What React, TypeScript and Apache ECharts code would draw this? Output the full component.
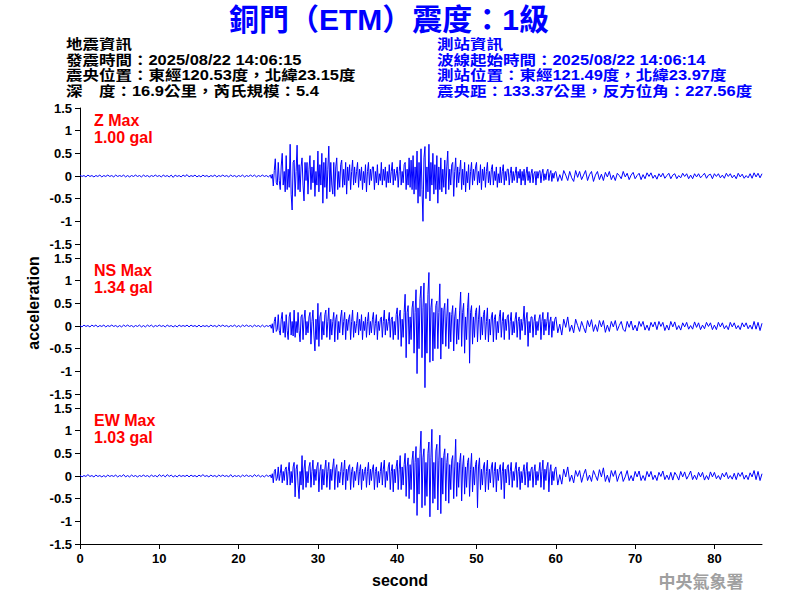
import React, { useEffect, useRef } from "react";
import * as echarts from "echarts";

// ---------- text content ----------
const titleText = "銅門（ETM）震度：1級";
const quakeInfo = [
  "地震資訊",
  "發震時間：2025/08/22 14:06:15",
  "震央位置：東經120.53度，北緯23.15度",
  "深　度：16.9公里，芮氏規模：5.4",
];
const stationInfo = [
  "測站資訊",
  "波線起始時間：2025/08/22 14:06:14",
  "測站位置：東經121.49度，北緯23.97度",
  "震央距：133.37公里，反方位角：227.56度",
];
const componentNames = ["Z Max", "NS Max", "EW Max"];
const componentMax = ["1.00 gal", "1.34 gal", "1.03 gal"];
const xTicks = [0, 10, 20, 30, 40, 50, 60, 70, 80];
const xMax = 86;
const yTicks = [-1.5, -1, -0.5, 0, 0.5, 1, 1.5];

// ---------- waveform samples ----------
// pre-event noise: every 0.25 s from 0 s
const preStart = 0;
const preStep = 0.25;
// strong motion: every 0.125 s from 24 s
const strongStart = 24;
const strongStep = 0.125;
// coda: every 0.25 s from 60 s
const codaStart = 60;
const codaStep = 0.25;

const zPre = [
  0.02, -0.01, 0.01, -0.02, 0.02, -0.01, 0.01, -0.02,
  0.01, -0.01, 0.02, -0.02, 0.01, -0.01, 0.02, -0.01,
  0.01, -0.02, 0.02, -0.01, 0.01, -0.01, 0.02, -0.02,
  0.01, -0.02, 0.01, -0.01, 0.02, -0.01, 0.01, -0.02,
  0.02, -0.01, 0.01, -0.02, 0.01, -0.01, 0.02, -0.01,
  0.01, -0.02, 0.02, -0.01, 0.01, -0.02, 0.02, -0.03,
  0.02, -0.01, 0.01, -0.02, 0.02, -0.01, 0.03, -0.02,
  0.01, -0.01, 0.02, -0.02, 0.01, -0.02, 0.02, -0.01,
  0.01, -0.02, 0.01, -0.01, 0.02, -0.02, 0.01, -0.01,
  0.02, -0.01, 0.01, -0.02, 0.02, -0.01, 0.01, -0.02,
  0.01, -0.01, 0.02, -0.02, 0.01, -0.01, 0.02, -0.01,
  0.02, -0.02, 0.01, -0.01, 0.02, -0.01, 0.01, -0.02,
];
const zStrong = [
  0.02, -0.05, 0.04, -0.22, 0.12, 0.38, -0.15, -0.2,
  0.3, -0.1, -0.3, 0.22, 0.5, -0.2, 0.1, -0.35,
  0.45, -0.3, 0.15, -0.25, 0.7, -0.4, -0.75, 0.3,
  0.35, -0.45, 0.1, 0.68, -0.3, 0.25, -0.35, 0.2,
  0.4, -0.2, -0.55, 0.3, -0.1, 0.3, -0.4, 0.15,
  0.45, -0.3, 0.2, -0.15, 0.35, -0.45, 0.1, -0.2,
  0.55, -0.35, 0.25, -0.2, 0.5, -0.6, 0.3, -0.25,
  0.4, -0.5, 0.15, 0.66, -0.35, 0.3, -0.2, -0.4,
  0.3, -0.45, 0.2, 0.4, -0.3, 0.1, -0.25, 0.25,
  0.35, -0.25, 0.15, -0.2, 0.3, -0.4, 0.2, -0.1,
  0.25, -0.3, 0.1, 0.35, -0.2, 0.2, -0.15, 0.1,
  0.3, -0.25, 0.15, -0.1, 0.2, -0.3, 0.1, -0.15,
  0.25, -0.35, 0.1, 0.3, -0.2, 0.15, -0.1, 0.2,
  0.2, -0.3, 0.1, -0.15, 0.25, -0.2, 0.05, -0.1,
  0.3, -0.2, 0.15, -0.1, 0.2, -0.25, 0.1, -0.15,
  0.25, -0.15, 0.1, 0.3, -0.2, 0.15, -0.1, 0.05,
  0.2, -0.25, 0.1, 0.35, -0.2, 0.1, -0.15, 0.25,
  0.3, -0.3, 0.15, -0.2, 0.4, -0.25, 0.35, -0.3,
  0.45, -0.4, 0.2, -0.3, 0.55, -0.6, 0.3, -0.45,
  0.6, -0.3, -1.0, 0.4, 0.65, -0.5, 0.2, -0.35,
  0.7, -0.55, 0.3, -0.2, 0.5, -0.4, 0.25, -0.3,
  0.45, -0.6, 0.2, -0.3, 0.4, -0.35, 0.15, -0.25,
  0.35, -0.4, 0.2, 0.55, -0.3, 0.15, -0.2, 0.25,
  0.3, -0.45, 0.1, 0.4, -0.25, 0.2, -0.15, 0.1,
  0.35, -0.3, 0.15, -0.2, 0.3, -0.35, 0.1, -0.15,
  0.25, -0.3, 0.1, 0.3, -0.2, 0.15, -0.1, 0.2,
  0.3, -0.2, 0.1, -0.15, 0.25, -0.3, 0.15, -0.1,
  0.2, -0.25, 0.1, 0.3, -0.15, 0.1, -0.2, 0.15,
  0.25, -0.2, 0.1, -0.1, 0.2, -0.25, 0.05, -0.15,
  0.2, -0.15, 0.1, 0.25, -0.2, 0.1, -0.1, 0.15,
  0.15, -0.2, 0.05, 0.2, -0.15, 0.1, -0.1, 0.05,
  0.2, -0.15, 0.1, -0.05, 0.15, -0.2, 0.1, -0.1,
  0.15, -0.2, 0.05, 0.2, -0.1, 0.1, -0.15, 0.05,
  0.15, -0.15, 0.05, 0.1, -0.2, 0.1, -0.05, 0.1,
  0.12, -0.15, 0.05, 0.15, -0.1, 0.05, -0.08, 0.1,
  0.15, -0.1, 0.05, 0.12, -0.12, 0.06, -0.05, 0.08,
];
const zCoda = [
  0.1, -0.12, 0.03, -0.1,
  0.12, 0.02, -0.1, 0.1,
  -0.04, -0.12, 0.12, -0.03,
  0.1, -0.08, 0.02, 0.12,
  -0.1, 0.03, 0.1, -0.12,
  0.02, 0.1, -0.08, 0.04,
  -0.1, 0.08, -0.02, 0.1,
  -0.08, 0.02, -0.1, 0.06,
  0.01, -0.06, 0.1, -0.02,
  0.06, -0.08, 0.02, 0.08,
  -0.06, 0.01, 0.06, -0.08,
  0.03, -0.06, 0.07, -0.01,
  0.07, -0.05, 0.02, -0.07,
  0.05, -0.02, 0.06, -0.05,
  0.01, 0.06, -0.06, 0.02,
  0.05, -0.06, 0.01, -0.04,
  0.06, -0.01, 0.05, -0.06,
  0.02, -0.06, 0.05, -0.02,
  0.05, -0.04, 0.01, 0.06,
  -0.05, 0.02, 0.04, -0.06,
  0.05, -0.01, 0.05, -0.04,
  0.02, -0.05, 0.06, -0.01,
  0.05, -0.04, 0.02, -0.06,
  0.06, -0.02, 0.04, -0.05,
  0.01, -0.04, 0.05, -0.05,
  0.07, -0.02, 0.06, -0.04,
  0.05,
];

const nsPre = [
  0.01, -0.02, 0.02, -0.01, 0.01, -0.02, 0.02, -0.01,
  0.02, -0.02, 0.01, -0.01, 0.02, -0.02, 0.01, -0.01,
  0.02, -0.01, 0.01, -0.02, 0.01, -0.02, 0.02, -0.01,
  0.02, -0.01, 0.01, -0.02, 0.01, -0.01, 0.02, -0.02,
  0.01, -0.02, 0.02, -0.01, 0.02, -0.02, 0.01, -0.01,
  0.02, -0.01, 0.01, -0.02, 0.02, -0.01, 0.01, -0.02,
  0.01, -0.02, 0.02, -0.01, 0.01, -0.01, 0.02, -0.02,
  0.02, -0.01, 0.01, -0.02, 0.02, -0.02, 0.01, -0.01,
  0.01, -0.02, 0.02, -0.01, 0.01, -0.02, 0.02, -0.01,
  0.02, -0.01, 0.01, -0.02, 0.01, -0.01, 0.02, -0.02,
  0.01, -0.02, 0.02, -0.01, 0.02, -0.01, 0.01, -0.02,
  0.02, -0.01, 0.01, -0.02, 0.02, -0.02, 0.01, -0.01,
];
const nsStrong = [
  0.02, -0.05, 0.05, -0.15, 0.1, 0.2, -0.12, -0.08,
  0.25, -0.1, -0.2, 0.15, 0.3, -0.15, 0.1, -0.25,
  0.25, -0.1, -0.3, 0.2, 0.3, -0.2, 0.1, -0.22,
  0.35, -0.25, 0.1, -0.15, 0.3, -0.1, -0.35, 0.2,
  0.25, -0.3, 0.15, 0.35, -0.2, 0.1, -0.15, 0.2,
  0.3, -0.4, 0.1, 0.35, -0.2, -0.55, 0.15, -0.3,
  0.5, -0.45, 0.2, 0.3, -0.3, 0.1, -0.2, 0.25,
  0.35, -0.25, 0.1, 0.4, -0.3, 0.15, -0.2, 0.1,
  0.3, -0.35, 0.15, 0.25, -0.3, 0.1, -0.15, 0.2,
  0.35, -0.2, 0.1, 0.3, -0.3, 0.15, -0.1, 0.15,
  0.25, -0.3, 0.1, 0.35, -0.25, 0.1, -0.15, 0.05,
  0.3, -0.2, 0.15, -0.1, 0.25, -0.3, 0.1, -0.1,
  0.2, -0.25, 0.1, 0.3, -0.2, 0.1, -0.15, 0.15,
  0.3, -0.2, 0.05, 0.25, -0.3, 0.1, -0.1, 0.15,
  0.2, -0.25, 0.1, 0.35, -0.2, 0.15, -0.1, 0.1,
  0.3, -0.25, 0.15, 0.2, -0.3, 0.1, -0.2, 0.25,
  0.4, -0.3, 0.2, 0.35, -0.45, 0.15, -0.25, 0.3,
  0.7, -0.7, 0.3, 0.45, -0.4, 0.2, -0.3, 0.4,
  0.55, -0.6, 0.3, 0.8, -1.05, 0.4, -0.5, 0.6,
  0.88, -0.7, 0.4, 0.95, -1.36, 0.5, -0.6, 0.7,
  1.18, -0.8, 0.4, 0.6, -0.77, 0.3, -0.5, 0.45,
  0.55, -0.5, 0.3, 0.93, -0.73, 0.4, -0.4, 0.35,
  0.5, -0.45, 0.2, 0.6, -0.5, 0.3, -0.35, 0.25,
  0.45, -0.55, 0.2, 0.4, -0.4, 0.15, -0.3, 0.35,
  0.75, -0.45, 0.3, 0.5, -0.6, 0.2, -0.3, 0.4,
  0.73, -0.82, 0.3, 0.45, -0.4, 0.2, -0.25, 0.3,
  0.4, -0.35, 0.15, 0.45, -0.3, 0.2, -0.2, 0.25,
  0.35, -0.3, 0.1, 0.4, -0.35, 0.15, -0.2, 0.2,
  0.3, -0.35, 0.15, 0.25, -0.3, 0.1, -0.15, 0.2,
  0.35, -0.25, 0.1, 0.3, -0.3, 0.15, -0.1, 0.2,
  0.25, -0.3, 0.1, 0.3, -0.2, 0.1, -0.15, 0.15,
  0.3, -0.25, 0.1, 0.2, -0.3, 0.15, -0.1, 0.1,
  0.44, -0.2, 0.15, 0.3, -0.45, 0.1, -0.15, 0.2,
  0.2, -0.25, 0.1, 0.25, -0.2, 0.1, -0.1, 0.15,
  0.25, -0.3, 0.1, 0.3, -0.2, 0.15, -0.1, 0.1,
  0.3, -0.2, 0.1, 0.2, -0.25, 0.1, -0.1, 0.15,
];
const nsCoda = [
  0.2, -0.15, 0.04, -0.2,
  0.15, -0.03, 0.2, -0.12,
  0.02, -0.15, 0.15, 0.01,
  -0.12, 0.1, -0.03, -0.15,
  0.12, -0.02, 0.14, -0.12,
  0.03, -0.12, 0.12, -0.02,
  0.12, -0.14, 0.02, -0.12,
  0.1, -0.02, 0.12, -0.1,
  0.01, 0.1, -0.08, -0.12,
  0.1, -0.03, 0.11, -0.09,
  0.02, -0.11, 0.1, -0.01,
  0.1, -0.09, 0.02, -0.1,
  0.08, -0.02, 0.09, -0.08,
  0.1, -0.01, 0.08, -0.1,
  0.02, -0.09, 0.1, -0.02,
  0.09, -0.08, 0.01, -0.09,
  0.07, -0.02, 0.08, -0.07,
  0.01, -0.07, 0.09, -0.03,
  0.07, -0.08, 0.02, -0.06,
  0.08, -0.01, 0.07, -0.08,
  0.02, -0.08, 0.08, -0.02,
  0.07, -0.06, 0.01, -0.08,
  0.08, -0.02, 0.07, -0.06,
  0.01, -0.08, 0.07, -0.02,
  0.07, -0.06, 0.02, -0.07,
  0.1, -0.07, 0.08, -0.1,
  0.06,
];

const ewPre = [
  0.02, -0.02, 0.01, -0.01, 0.03, -0.01, 0.01, -0.02,
  0.02, -0.01, 0.01, -0.02, 0.01, -0.02, 0.02, -0.01,
  0.01, -0.01, 0.02, -0.02, 0.01, -0.01, 0.03, -0.02,
  0.01, -0.02, 0.02, -0.01, 0.01, -0.02, 0.01, -0.01,
  0.02, -0.01, 0.01, -0.02, 0.02, -0.01, 0.01, -0.02,
  0.03, -0.01, 0.02, -0.02, 0.03, -0.01, 0.02, -0.02,
  0.01, -0.02, 0.02, -0.01, 0.01, -0.01, 0.02, -0.02,
  0.02, -0.01, 0.01, -0.02, 0.02, -0.01, 0.03, -0.01,
  0.01, -0.02, 0.02, -0.01, 0.01, -0.02, 0.02, -0.01,
  0.02, -0.01, 0.01, -0.02, 0.03, -0.02, 0.01, -0.01,
  0.01, -0.02, 0.02, -0.01, 0.02, -0.01, 0.01, -0.02,
  0.03, -0.01, 0.02, -0.02, 0.01, -0.02, 0.02, -0.01,
];
const ewStrong = [
  0.02, -0.04, 0.05, -0.15, 0.1, 0.15, -0.1, -0.05,
  0.2, -0.1, 0.05, 0.25, -0.15, 0.1, -0.1, 0.15,
  0.2, -0.2, 0.1, 0.3, -0.2, 0.1, -0.15, 0.2,
  0.3, -0.46, 0.15, 0.25, -0.2, -0.5, 0.1, -0.2,
  0.45, -0.3, 0.15, 0.35, -0.25, 0.1, -0.15, 0.2,
  0.3, -0.25, 0.1, 0.35, -0.2, 0.15, -0.1, 0.2,
  0.3, -0.35, 0.1, 0.25, -0.3, 0.15, -0.2, 0.15,
  0.35, -0.25, 0.1, 0.3, -0.3, 0.15, -0.1, 0.2,
  0.38, -0.3, 0.15, 0.25, -0.25, 0.1, -0.15, 0.1,
  0.3, -0.2, 0.1, 0.35, -0.3, 0.15, -0.1, 0.2,
  0.25, -0.3, 0.1, 0.2, -0.25, 0.1, -0.1, 0.15,
  0.3, -0.2, 0.1, 0.25, -0.3, 0.15, -0.1, 0.1,
  0.2, -0.25, 0.1, 0.3, -0.2, 0.15, -0.1, 0.15,
  0.25, -0.3, 0.1, 0.2, -0.25, 0.1, -0.15, 0.1,
  0.3, -0.2, 0.15, 0.35, -0.25, 0.1, -0.1, 0.2,
  0.3, -0.3, 0.1, 0.25, -0.35, 0.15, -0.15, 0.2,
  0.35, -0.3, 0.15, 0.45, -0.3, 0.2, -0.2, 0.25,
  0.5, -0.45, 0.2, 0.4, -0.5, 0.25, -0.3, 0.35,
  0.55, -0.6, 0.3, 0.65, -0.87, 0.4, -0.4, 0.5,
  0.99, -0.7, 0.4, 0.6, -0.65, 0.3, -0.45, 0.5,
  0.75, -0.9, 0.4, 1.03, -0.6, 0.3, -0.5, 0.55,
  0.7, -0.75, 0.35, 0.9, -0.83, 0.4, -0.4, 0.45,
  0.6, -0.55, 0.3, 0.5, -0.6, 0.25, -0.3, 0.35,
  0.45, -0.5, 0.2, 0.81, -0.45, 0.3, -0.25, 0.3,
  0.5, -0.55, 0.2, 0.45, -0.4, 0.2, -0.25, 0.3,
  0.4, -0.45, 0.15, 0.5, -0.35, 0.2, -0.2, 0.25,
  0.35, -0.7, 0.2, 0.4, -0.3, 0.15, -0.2, 0.2,
  0.3, -0.35, 0.1, 0.35, -0.3, 0.15, -0.15, 0.2,
  0.3, -0.25, 0.1, 0.3, -0.35, 0.15, -0.1, 0.15,
  0.25, -0.3, 0.1, 0.3, -0.5, 0.15, -0.15, 0.2,
  0.25, -0.2, 0.1, 0.3, -0.25, 0.1, -0.1, 0.15,
  0.3, -0.25, 0.1, 0.2, -0.3, 0.1, -0.15, 0.1,
  0.25, -0.2, 0.1, 0.3, -0.25, 0.1, -0.1, 0.15,
  0.2, -0.25, 0.1, 0.25, -0.2, 0.1, -0.1, 0.1,
  0.3, -0.25, 0.1, 0.35, -0.3, 0.15, -0.1, 0.2,
  0.3, -0.35, 0.1, 0.25, -0.2, 0.1, -0.1, 0.15,
];
const ewCoda = [
  0.2, -0.2, 0.03, -0.18,
  0.15, -0.02, 0.2, -0.12,
  0.02, -0.15, 0.12, -0.01,
  0.12, -0.14, 0.03, 0.15,
  -0.1, 0.02, -0.12, 0.12,
  0.01, -0.1, 0.14, -0.02,
  0.18, -0.12, 0.02, -0.14,
  0.12, -0.01, 0.12, -0.12,
  0.02, 0.1, -0.12, -0.02,
  0.12, -0.1, 0.01, -0.11,
  0.1, -0.02, 0.11, -0.1,
  0.01, -0.1, 0.1, -0.02,
  0.1, -0.08, 0.02, -0.1,
  0.08, -0.01, 0.11, -0.08,
  0.02, -0.08, 0.08, -0.09,
  0.08, 0.01, -0.09, 0.1,
  -0.02, 0.09, -0.07, 0.01,
  0.11, -0.08, 0.02, -0.08,
  0.08, -0.02, 0.08, -0.09,
  0.01, -0.08, 0.09, -0.02,
  0.08, -0.06, 0.01, -0.08,
  0.06, -0.02, 0.08, -0.06,
  0.01, -0.07, 0.06, -0.08,
  0.07, -0.01, 0.08, -0.07,
  0.02, -0.08, 0.07, -0.02,
  0.12, -0.08, 0.1, -0.1,
  0.05,
];

const LATIN = '"Liberation Sans", Arial, sans-serif';
const MIXED = '"Liberation Sans", "Noto Sans CJK TC", sans-serif';
const BLUE = "#0000ff";

function segment(vals: number[], start: number, step: number): number[][] {
  return vals.map((v, i) => [start + i * step, v]);
}

export default function App() {
  const ref = useRef<HTMLDivElement>(null);

  useEffect(() => {
    document.body.style.margin = "0";
    if (!ref.current) return;
    const chart = echarts.init(ref.current, undefined, { renderer: "svg" });

    const gridTops = [108, 258, 408];
    const gridH = 136;
    const left = 80;
    const width = 682;
    const waves = [
      [zPre, zStrong, zCoda],
      [nsPre, nsStrong, nsCoda],
      [ewPre, ewStrong, ewCoda],
    ].map(([p, s, c]) => [
      ...segment(p, preStart, preStep),
      ...segment(s, strongStart, strongStep),
      ...segment(c, codaStart, codaStep),
    ]);

    const txt = (x: number, y: number, text: string, font: string, fill: string, align = "left", extra: any = {}) => ({
      type: "text",
      x,
      y,
      ...extra,
      style: {
        text,
        font,
        fill,
        textAlign: align,
        textVerticalAlign: "middle",
        verticalAlign: "middle",
      },
    });

    const graphic: any[] = [];
    graphic.push(txt(389, 19, titleText, `bold 30px ${MIXED}`, BLUE, "center"));
    quakeInfo.forEach((t, i) =>
      graphic.push(txt(66, 44 + i * 15.5, t, `bold 16.5px ${MIXED}`, "#000", "left", { scaleY: 0.85 }))
    );
    stationInfo.forEach((t, i) =>
      graphic.push(txt(437, 44 + i * 15.5, t, `bold 16.5px ${MIXED}`, BLUE, "left", { scaleY: 0.85 }))
    );
    componentNames.forEach((n, i) => {
      graphic.push(txt(94, gridTops[i] + 12, n, `bold 16px ${LATIN}`, "#ff0000"));
      graphic.push(txt(94, gridTops[i] + 29, componentMax[i], `bold 16px ${LATIN}`, "#ff0000"));
    });
    graphic.push({
      type: "line",
      shape: { x1: left + 0.5, y1: gridTops[0], x2: left + 0.5, y2: gridTops[2] + gridH },
      style: { stroke: "#000", lineWidth: 1 },
    });
    graphic.push(
      txt(33, 303, "acceleration", `bold 16px ${LATIN}`, "#000", "center", { rotation: Math.PI / 2 })
    );
    graphic.push(txt(400, 580, "second", `bold 16px ${LATIN}`, "#000", "center"));
    graphic.push(txt(701, 580, "中央氣象署", `bold 17px "Noto Sans CJK TC", sans-serif`, "#a0a0a0", "center"));

    const option: any = {
      animation: false,
      backgroundColor: "#fff",
      grid: gridTops.map((t) => ({ left, width, top: t, height: gridH })),
      xAxis: gridTops.map((_, i) => ({
        type: "value",
        gridIndex: i,
        min: 0,
        max: xMax,
        show: i === 2,
        axisLine: { show: true, onZero: false, lineStyle: { color: "#000", width: 1 } },
        axisTick: {
          show: true,
          length: 5,
          lineStyle: { color: "#000" },
          customValues: xTicks,
        },
        axisLabel: {
          color: "#000",
          fontSize: 13,
          fontWeight: "bold",
          fontFamily: LATIN,
          margin: 8,
          customValues: xTicks,
        },
        splitLine: { show: false },
      })),
      yAxis: gridTops.map((_, i) => ({
        type: "value",
        gridIndex: i,
        min: yTicks[0],
        max: yTicks[yTicks.length - 1],
        interval: 0.5,
        axisLine: { show: true, lineStyle: { color: "#000", width: 1 } },
        axisTick: { show: true, length: 5, lineStyle: { color: "#000" } },
        axisLabel: {
          color: "#000",
          fontSize: 13,
          fontWeight: "bold",
          fontFamily: LATIN,
          margin: 8,
          showMinLabel: true,
          showMaxLabel: true,
        },
        splitLine: { show: false },
      })),
      series: waves.map((d, i) => ({
        type: "line",
        xAxisIndex: i,
        yAxisIndex: i,
        data: d,
        showSymbol: false,
        symbol: "none",
        silent: true,
        lineStyle: { color: BLUE, width: 1 },
      })),
      graphic,
    };
    chart.setOption(option);
    return () => chart.dispose();
  }, []);

  return <div ref={ref} style={{ width: 800, height: 600 }} />;
}
